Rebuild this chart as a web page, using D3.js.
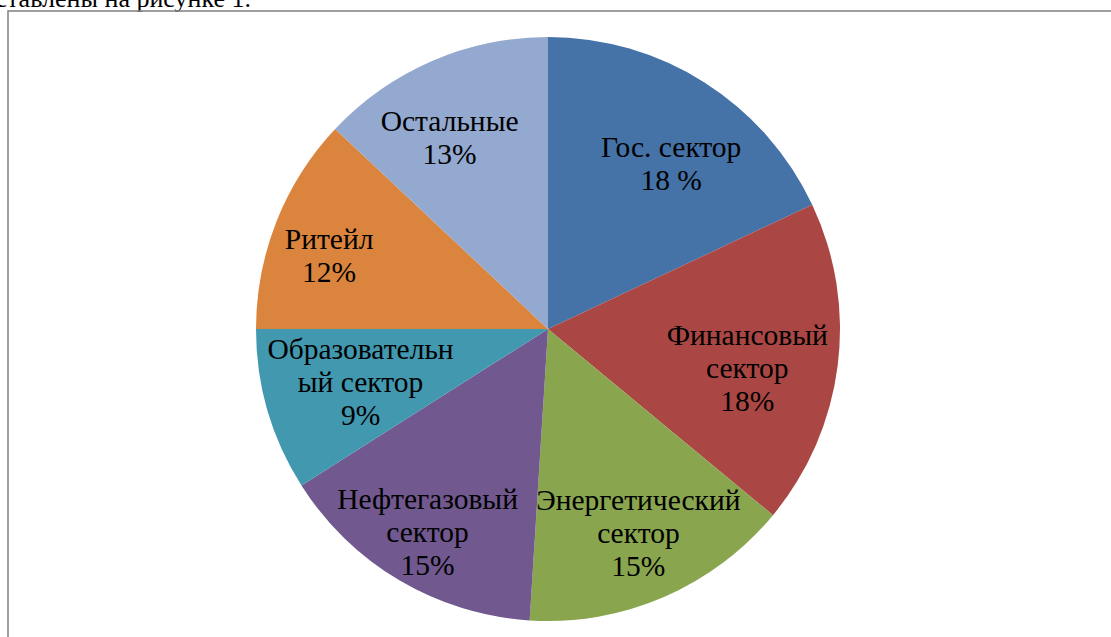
<!DOCTYPE html>
<html>
<head>
<meta charset="utf-8">
<script src="https://cdn.jsdelivr.net/npm/d3@7"></script>
<style>
  body { margin: 0; background: #fff; }
  svg { display: block; }
  .lbl { font-family: "Liberation Serif", "Times New Roman", serif; font-size: 29.5px; fill: #000; }
  .caption { font-family: "Liberation Serif", "Times New Roman", serif; font-size: 26px; fill: #000; }
</style>
</head>
<body>
<svg id="chart"></svg>
<script>
const WIDTH = 1111;
const HEIGHT = 637;
const CX = 548;
const CY = 329;
const RADIUS = 292;
const LINE_H = 33;

// data
const categories = [
  ['Гос. сектор'],
  ['Финансовый', 'сектор'],
  ['Энергетический', 'сектор'],
  ['Нефтегазовый', 'сектор'],
  ['Образовательн', 'ый сектор'],
  ['Ритейл'],
  ['Остальные']
];
const values = [18, 18, 15, 15, 9, 12, 13];
const pctLabels = ['18 %', '18%', '15%', '15%', '9%', '12%', '13%'];
const colors = ['#4572A7', '#AA4643', '#89A54E', '#71588F', '#4198AF', '#DB843D', '#93A9CF'];

// label layout: nudge from the centroid (excel "best fit" look)
const labelNudge = [[8, 16], [-14, 12], [5, 7], [-11, 18], [19, -7], [-19, 6], [-13, 6]];

const $svg = d3.select('#chart')
  .attr('width', WIDTH)
  .attr('height', HEIGHT);

// caption fragment at the top (text cut by the page)
$svg.append('text')
  .attr('class', 'caption')
  .attr('x', 251)
  .attr('y', 7)
  .attr('text-anchor', 'end')
  .text('редставлены на рисунке 1.');

// chart frame
$svg.append('rect')
  .attr('x', 8)
  .attr('y', 11)
  .attr('width', 1300)
  .attr('height', 800)
  .attr('fill', 'none')
  .attr('stroke', '#878787')
  .attr('stroke-width', 1.6);

const data = values.map((v, i) => ({ value: v, lines: categories[i].concat([pctLabels[i]]), color: colors[i], i: i }));

const pie = d3.pie()
  .sort(null)
  .value(d => d.value);

const arc = d3.arc()
  .innerRadius(0)
  .outerRadius(RADIUS);

const labelArc = d3.arc()
  .innerRadius(215)
  .outerRadius(215);

const $gVis = $svg.append('g')
  .attr('transform', `translate(${CX},${CY})`);

const arcs = pie(data);

$gVis.selectAll('path.slice')
  .data(arcs)
  .enter().append('path')
  .attr('class', 'slice')
  .attr('d', arc)
  .attr('fill', d => d.data.color);

const $labels = $gVis.selectAll('text.slice-label')
  .data(arcs)
  .enter().append('text')
  .attr('class', 'lbl slice-label')
  .attr('text-anchor', 'middle')
  .attr('transform', d => {
    const c = labelArc.centroid(d);
    const n = labelNudge[d.data.i];
    return `translate(${c[0] + n[0]},${c[1] + n[1]})`;
  });

$labels.each(function(d) {
  const lines = d.data.lines;
  const top = -(lines.length - 1) / 2 * LINE_H + 10;
  const t = d3.select(this);
  lines.forEach((l, k) => {
    t.append('tspan')
      .attr('x', 0)
      .attr('y', top + k * LINE_H)
      .text(l);
  });
});
</script>
</body>
</html>
